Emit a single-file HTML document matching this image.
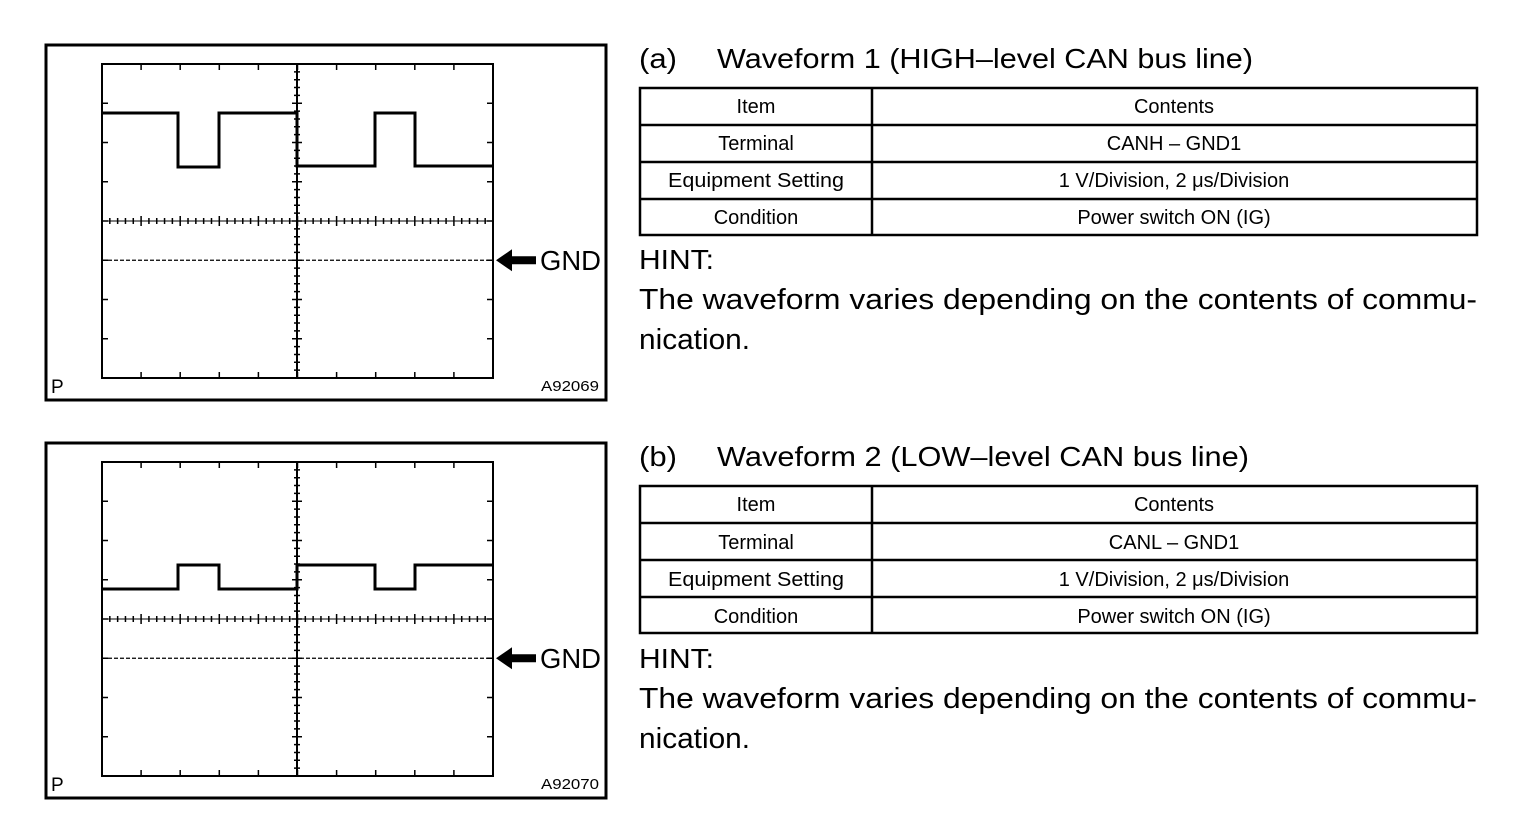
<!DOCTYPE html>
<html><head><meta charset="utf-8"><style>
html,body{margin:0;padding:0;background:#fff;}
svg{display:block;}
text{font-family:"Liberation Sans",Arial,sans-serif;fill:#000;}
</style></head><body>
<svg id="s" width="1520" height="820" viewBox="0 0 1520 820" xmlns="http://www.w3.org/2000/svg">
<g id="p1"></g><g id="p2"></g>
<text x="51" y="393" font-size="19">P</text>
<text x="541" y="391" font-size="15" textLength="58" lengthAdjust="spacingAndGlyphs">A92069</text>
<text x="51" y="791" font-size="19">P</text>
<text x="541" y="789" font-size="15" textLength="58" lengthAdjust="spacingAndGlyphs">A92070</text>
<text x="540" y="270" font-size="28" textLength="61" lengthAdjust="spacingAndGlyphs">GND</text>
<text x="540" y="668" font-size="28" textLength="61" lengthAdjust="spacingAndGlyphs">GND</text>

<text x="639" y="68" font-size="28" textLength="38" lengthAdjust="spacingAndGlyphs">(a)</text>
<text x="717" y="68" font-size="28" textLength="536" lengthAdjust="spacingAndGlyphs">Waveform 1 (HIGH–level CAN bus line)</text>
<g fill="none" stroke="#000" stroke-width="2.5">
<rect x="640" y="88" width="837" height="147"/>
<line x1="872" y1="88" x2="872" y2="235"/>
<line x1="640" y1="125" x2="1477" y2="125"/>
<line x1="640" y1="162" x2="1477" y2="162"/>
<line x1="640" y1="199" x2="1477" y2="199"/>
</g>
<g font-size="20" text-anchor="middle">
<text x="756" y="113">Item</text>
<text x="756" y="150">Terminal</text>
<text x="756" y="187" textLength="176" lengthAdjust="spacingAndGlyphs">Equipment Setting</text>
<text x="756" y="224">Condition</text>
<text x="1174" y="113">Contents</text>
<text x="1174" y="150">CANH – GND1</text>
<text x="1174" y="187">1 V/Division, 2 μs/Division</text>
<text x="1174" y="224">Power switch ON (IG)</text>
</g>
<text x="639" y="269" font-size="28" textLength="75" lengthAdjust="spacingAndGlyphs">HINT:</text>
<text x="639" y="309" font-size="29" textLength="838" lengthAdjust="spacingAndGlyphs">The waveform varies depending on the contents of commu-</text>
<text x="639" y="349" font-size="29" textLength="111" lengthAdjust="spacingAndGlyphs">nication.</text>

<text x="639" y="466" font-size="28" textLength="38" lengthAdjust="spacingAndGlyphs">(b)</text>
<text x="717" y="466" font-size="28" textLength="532" lengthAdjust="spacingAndGlyphs">Waveform 2 (LOW–level CAN bus line)</text>
<g fill="none" stroke="#000" stroke-width="2.5">
<rect x="640" y="486" width="837" height="147"/>
<line x1="872" y1="486" x2="872" y2="633"/>
<line x1="640" y1="523" x2="1477" y2="523"/>
<line x1="640" y1="560" x2="1477" y2="560"/>
<line x1="640" y1="597" x2="1477" y2="597"/>
</g>
<g font-size="20" text-anchor="middle">
<text x="756" y="511">Item</text>
<text x="756" y="549">Terminal</text>
<text x="756" y="586" textLength="176" lengthAdjust="spacingAndGlyphs">Equipment Setting</text>
<text x="756" y="623">Condition</text>
<text x="1174" y="511">Contents</text>
<text x="1174" y="549">CANL – GND1</text>
<text x="1174" y="586">1 V/Division, 2 μs/Division</text>
<text x="1174" y="623">Power switch ON (IG)</text>
</g>
<text x="639" y="668" font-size="28" textLength="75" lengthAdjust="spacingAndGlyphs">HINT:</text>
<text x="639" y="708" font-size="29" textLength="838" lengthAdjust="spacingAndGlyphs">The waveform varies depending on the contents of commu-</text>
<text x="639" y="748" font-size="29" textLength="111" lengthAdjust="spacingAndGlyphs">nication.</text>
</svg>
<script>
var NS="http://www.w3.org/2000/svg";
function el(g,t,a){var e=document.createElementNS(NS,t);for(var k in a)e.setAttribute(k,a[k]);g.appendChild(e);return e;}
function panel(id,dy,wave){
 var g=document.getElementById(id);
 el(g,"rect",{x:46,y:45+dy,width:560,height:355,fill:"none",stroke:"#000","stroke-width":3});
 var L=102,R=493,T=64+dy,B=378+dy,dx=(R-L)/10,dv=(B-T)/8,cx=297,cy=T+4*dv;
 el(g,"rect",{x:L,y:T,width:R-L,height:B-T,fill:"none",stroke:"#000","stroke-width":2});
 var d="";
 for(var i=1;i<10;i++){var x=L+i*dx;d+="M"+x+" "+T+"v6M"+x+" "+B+"v-6";}
 for(var j=1;j<8;j++){var y=T+j*dv;d+="M"+L+" "+y+"h6M"+R+" "+y+"h-6";}
 for(var i=0;i<=50;i++){var x=L+i*dx/5,h=(i%5==0)?5:3;d+="M"+x+" "+(cy-h)+"v"+(2*h);}
 for(var j=0;j<=40;j++){var y=T+j*dv/5,h=(j%5==0)?5:3;d+="M"+(cx-h)+" "+y+"h"+(2*h);}
 el(g,"path",{d:d,stroke:"#000","stroke-width":1.5,fill:"none"});
 el(g,"line",{x1:L,y1:cy,x2:R,y2:cy,stroke:"#000","stroke-width":1});
 el(g,"line",{x1:cx,y1:T,x2:cx,y2:B,stroke:"#000","stroke-width":2});
 var gy=T+5*dv;
 el(g,"line",{x1:L,y1:gy,x2:R,y2:gy,stroke:"#000","stroke-width":1.3,"stroke-dasharray":"4,2"});
 el(g,"polygon",{points:"496,"+gy+" 512,"+(gy-11)+" 512,"+(gy-4)+" 536,"+(gy-4)+" 536,"+(gy+4)+" 512,"+(gy+4)+" 512,"+(gy+11),fill:"#000"});
 el(g,"polyline",{points:wave,fill:"none",stroke:"#000","stroke-width":3});
}
panel("p1",0,"102,113 178,113 178,167 219,167 219,113 297,113 297,166 375,166 375,113 415,113 415,166 493,166");
panel("p2",398,"102,589 178,589 178,565 219,565 219,589 297,589 297,565 375,565 375,589 415,589 415,565 493,565");
</script>
</body></html>
